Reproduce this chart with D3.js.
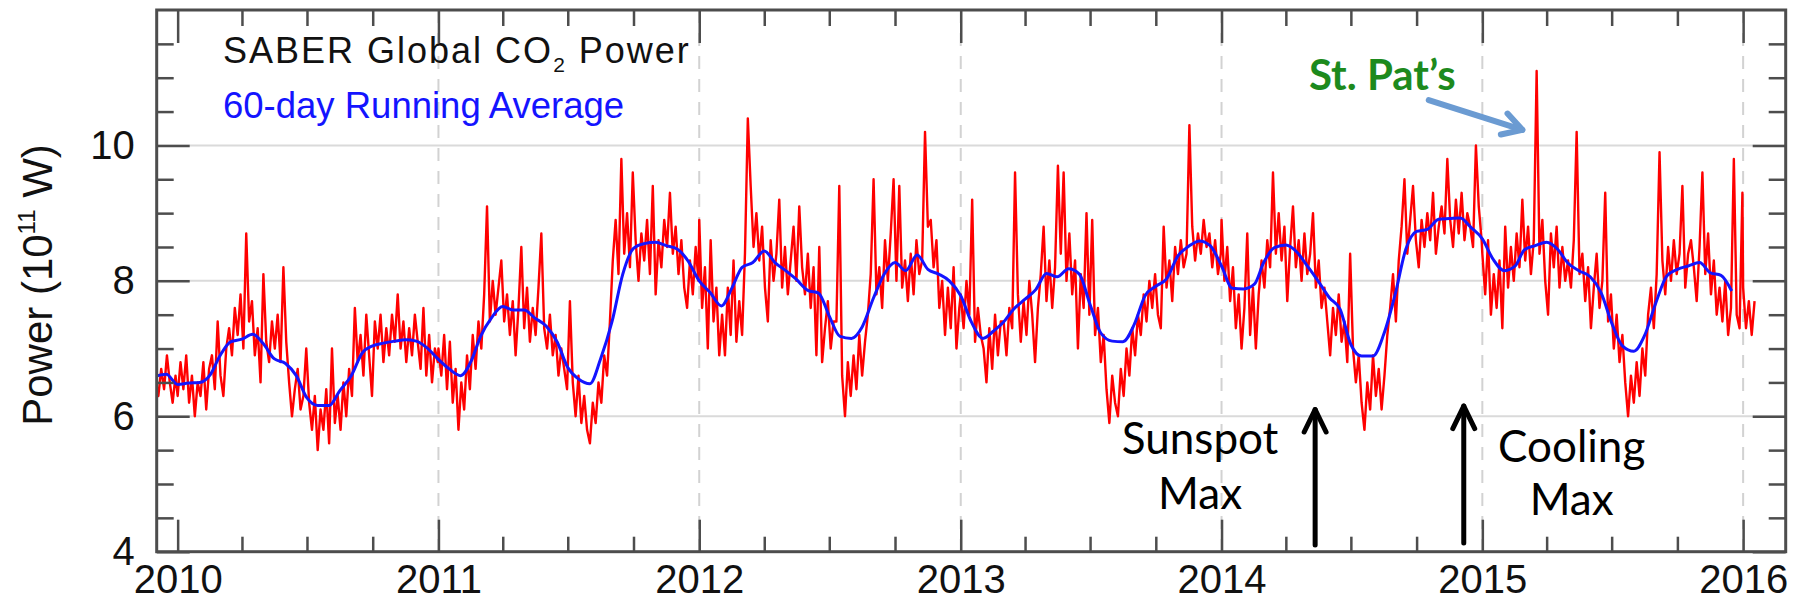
<!DOCTYPE html>
<html>
<head>
<meta charset="utf-8">
<script src="https://cdn.jsdelivr.net/npm/d3@7"></script>
<style>
  body { margin: 0; background: #fff; }
  svg { display: block; }
</style>
</head>
<body>
<script>
// SABER global CO2 power, 10^11 W, one reading every 4 days
// red2009 starts Dec 1 2009, the others on Jan 1 of their year
const red2009 = [6.5, 6.3, 6.7, 6.4, 6.9, 6.5, 6.2, 6.6];
const red2010 = [6.3, 6.8, 6.4, 6.9, 6.2, 6.6, 6.0, 6.5, 6.3, 6.8, 6.1, 6.7, 6.9, 6.4, 7.4,
  6.6, 6.3, 7.0, 7.3, 6.9, 7.6, 7.2, 7.8, 7.0, 8.7, 7.4, 7.7, 6.9, 7.3, 6.5, 8.1, 7.1, 6.8, 7.4,
  7.0, 7.5, 6.8, 8.2, 7.1, 6.5, 6.0, 6.4, 6.7, 6.1, 6.3, 7.0, 6.2, 5.8, 6.3, 5.5, 6.1, 5.8, 6.4,
  5.6, 7.0, 5.9, 6.3, 5.8, 6.5, 6.0, 6.7, 6.3, 7.6, 6.8, 7.2, 6.6, 7.5, 6.9, 6.3, 7.4, 7.0, 7.5,
  6.8, 7.3, 6.9, 7.5, 7.1, 7.8, 7.0, 7.4, 6.8, 7.3, 6.9, 7.5, 7.1, 6.7, 7.6, 6.6, 7.2, 6.5, 7.0, 6.8];
const red2011 = [7.0, 6.6, 7.2, 6.4, 7.1, 6.2, 6.7, 5.8, 6.5, 6.1, 6.9, 6.4, 7.2, 6.7, 7.4,
  7.0, 7.8, 9.1, 7.4, 8.0, 7.5, 7.9, 8.3, 7.4, 7.8, 7.2, 7.7, 6.9, 7.6, 8.5, 7.3, 7.9, 7.1,
  7.6, 7.2, 7.9, 8.7, 7.3, 7.0, 7.5, 6.9, 7.2, 6.6, 7.0, 6.7, 6.4, 7.7, 6.5, 6.0, 6.6, 5.9, 6.3, 5.8,
  5.6, 6.2, 5.9, 6.5, 6.2, 6.9, 6.6, 7.4, 8.3, 8.9, 8.1, 9.8, 8.4, 9.0, 8.2, 9.6, 8.6, 8.0,
  8.7, 8.3, 8.9, 8.1, 9.4, 7.8, 8.6, 8.2, 8.9, 8.5, 9.3, 8.4, 8.8, 8.1, 8.6, 7.9, 7.6, 8.3, 7.8, 8.5, 8.0];
const red2012 = [8.9, 7.6, 8.2, 7.0, 8.6, 7.4, 7.9, 6.9, 7.5, 6.9, 7.9, 7.2, 8.3, 7.1, 7.7,
  7.2, 8.4, 10.4, 9.4, 8.5, 9.0, 8.3, 8.8, 7.9, 7.4, 8.6, 8.0, 8.4, 9.2, 7.9, 8.5, 7.8, 8.3, 8.8, 8.0,
  9.1, 8.2, 7.8, 8.4, 7.6, 8.2, 6.9, 8.5, 6.8, 7.3, 7.7, 7.0, 7.4, 7.4, 9.4, 6.6, 6.0, 6.8, 6.3,
  6.9, 6.4, 7.2, 6.6, 7.1, 7.5, 8.1, 9.5, 7.8, 8.2, 7.6, 8.6, 8.0, 8.7, 9.5, 8.0, 9.4, 7.9, 8.3, 7.7,
  8.4, 7.8, 8.6, 8.1, 8.3, 10.2, 8.8, 8.9, 8.2, 8.6, 7.6, 8.0, 7.2, 7.9, 7.3, 8.2, 7.0, 7.6];
const red2013 = [7.8, 7.3, 8.0, 7.5, 9.2, 7.1, 7.6, 7.2, 7.0, 6.5, 7.3, 6.7, 7.5, 6.9, 7.4,
  7.4, 6.9, 7.6, 7.3, 9.6, 7.8, 7.1, 7.7, 7.2, 8.0, 7.5, 6.8, 7.6, 8.1, 8.8, 7.7, 8.3, 7.6, 8.2, 9.7,
  8.4, 9.6, 8.0, 8.7, 7.8, 8.3, 7.0, 8.1, 7.6, 9.0, 7.5, 8.9, 7.2, 7.6, 6.8, 7.2, 6.4, 5.9, 6.6, 6.2, 6.0,
  6.7, 6.3, 7.0, 6.6, 7.3, 6.9, 7.5, 7.2, 7.8, 7.4, 8.0, 7.6, 8.1, 7.5, 7.3, 8.8, 7.9, 8.3, 7.7, 8.5, 8.1,
  8.6, 8.2, 8.4, 10.3, 8.8, 8.3, 8.7, 8.4, 8.9, 8.5, 8.7, 8.2, 8.6, 8.1, 8.4];
const red2014 = [8.9, 8.0, 8.5, 7.7, 8.2, 7.3, 7.8, 7.0, 7.6, 8.7, 7.2, 7.9, 7.0, 7.8, 8.3,
  7.9, 8.6, 8.2, 9.6, 8.4, 9.0, 8.3, 8.8, 7.7, 8.5, 9.1, 8.2, 8.6, 8.0, 8.7, 8.1, 8.4, 9.0, 7.9, 8.3, 7.6,
  7.9, 7.4, 6.9, 7.6, 7.2, 7.8, 7.1, 7.4, 6.8, 8.4, 7.0, 6.5, 6.9, 6.2, 5.8, 6.5, 6.1, 6.9, 6.3, 6.7, 6.1,
  6.6, 7.2, 7.6, 8.1, 7.4, 8.3, 8.8, 9.5, 8.4, 8.9, 9.4, 8.6, 8.2, 8.9, 8.5, 9.0, 8.6, 9.3, 8.4, 8.8, 9.1,
  8.7, 9.8, 8.9, 8.5, 9.2, 8.7, 9.3, 8.6, 9.0, 8.8, 8.5, 10.0, 9.1, 8.6];
const red2015 = [8.4, 7.8, 8.6, 7.5, 8.1, 7.6, 8.3, 7.3, 8.8, 7.9, 8.5, 8.0, 8.7, 8.2, 9.2,
  8.3, 8.8, 8.1, 8.6, 11.1, 8.4, 8.9, 8.0, 7.5, 8.7, 8.2, 8.8, 7.9, 8.5, 8.0, 8.3, 7.9, 8.6, 10.2, 8.1,
  8.4, 7.7, 8.2, 7.3, 7.9, 8.4, 7.6, 8.0, 9.3, 7.4, 7.8, 7.0, 7.5, 6.8, 7.2, 6.5, 6.0, 6.6, 6.2, 6.8, 6.3,
  7.0, 6.6, 7.5, 7.9, 7.3, 8.1, 9.9, 8.3, 7.8, 8.5, 8.0, 8.6, 8.1, 8.4, 9.4, 7.9, 8.4, 8.6, 8.2, 7.7, 8.5,
  9.6, 8.1, 8.7, 7.8, 8.3, 7.5, 7.9, 7.4, 8.0, 7.2, 7.6, 9.8, 7.5, 7.3, 9.3];
const red2016 = [7.9, 7.3, 7.7, 7.2, 7.7];

// 60-day running average, read on the 1st and 16th of each month
const blue2009 = [6.59, 6.62];
const blue2010 = [6.47, 6.49, 6.50, 6.62, 6.89, 7.10, 7.14, 7.21, 7.07, 6.85, 6.78, 6.60,
  6.27, 6.16, 6.16, 6.38, 6.60, 6.93, 7.04, 7.08, 7.11, 7.13, 7.11, 7.01];
const blue2011 = [6.84, 6.70, 6.60, 6.82, 7.18, 7.45, 7.62, 7.57, 7.57, 7.45, 7.33, 7.10,
  6.72, 6.55, 6.48, 6.85, 7.40, 8.10, 8.48, 8.55, 8.57, 8.52, 8.47, 8.30];
const blue2012 = [8.00, 7.83, 7.63, 7.90, 8.20, 8.27, 8.44, 8.27, 8.15, 8.02, 7.86, 7.82,
  7.48, 7.18, 7.15, 7.32, 7.75, 8.10, 8.27, 8.15, 8.38, 8.17, 8.10, 8.00];
const blue2013 = [7.78, 7.39, 7.15, 7.26, 7.38, 7.58, 7.73, 7.87, 8.11, 8.06, 8.18, 8.10,
  7.65, 7.23, 7.11, 7.10, 7.36, 7.78, 7.92, 8.03, 8.37, 8.51, 8.59, 8.52];
const blue2014 = [8.22, 7.89, 7.88, 7.95, 8.27, 8.49, 8.53, 8.43, 8.22, 8.00, 7.75, 7.58,
  7.06, 6.89, 6.89, 7.21, 7.80, 8.47, 8.73, 8.76, 8.91, 8.92, 8.93, 8.79];
const blue2015 = [8.62, 8.32, 8.15, 8.22, 8.46, 8.52, 8.57, 8.47, 8.26, 8.15, 8.06, 7.83,
  7.38, 7.04, 6.96, 7.19, 7.68, 8.07, 8.17, 8.22, 8.27, 8.12, 8.08, 7.85];

const yearTicks = [2010, 2011, 2012, 2013, 2014, 2015, 2016];
const gridYears = [2011, 2012, 2013, 2014, 2015, 2016];
const powerTicks = [4, 6, 8, 10];
const powerMinorTicks = [4.5, 5, 5.5, 6.5, 7, 7.5, 8.5, 9, 9.5, 10.5, 11, 11.5];
const powerGrid = [6, 8, 10];

// annotations: [date, value]
const sunspotText = ["2013-12-02", 5.44];
const sunspotArrow = [["2014-05-12", 4.1], ["2014-05-12", 6.1]];
const coolingText = ["2015-05-06", 5.33];
const coolingArrow = [["2014-12-06", 4.13], ["2014-12-06", 6.15]];
const patText = ["2014-08-14", 10.82];
const patArrow = [["2014-10-18", 10.67], ["2015-02-26", 10.23]];

// 画布
const width = 1804, height = 603;
const plot = { left: 156.7, right: 1785.7, top: 10, bottom: 551.7 };
const axisColor = "#4d4d4d";
const helv = "'Liberation Sans', Arial, Helvetica, sans-serif";
const calib = "Lato, 'Open Sans', sans-serif";

const svg = d3.select("body").append("svg")
  .attr("width", width).attr("height", height)
  .style("background", "#fff");

const x = d3.scaleTime()
  .domain([new Date(2009, 11, 1), new Date(2016, 2, 1)])
  .range([155.5, 1786]);
const y = d3.scaleLinear().domain([4, 12]).range([plot.bottom, plot.top]);
const day = s => d3.timeParse("%Y-%m-%d")(s);

function everyFourDays(year, month, d0, vals) {
  return vals.map((v, i) => ({ date: d3.timeDay.offset(new Date(year, month, d0), i * 4), value: v }));
}
function twiceMonthly(year, month, vals) {
  return vals.map((v, i) => ({ date: new Date(year, month + Math.floor(i / 2), i % 2 ? 16 : 1), value: v }));
}

const redSeries = [].concat(
  everyFourDays(2009, 11, 1, red2009),
  everyFourDays(2010, 0, 1, red2010),
  everyFourDays(2011, 0, 1, red2011),
  everyFourDays(2012, 0, 1, red2012),
  everyFourDays(2013, 0, 1, red2013),
  everyFourDays(2014, 0, 1, red2014),
  everyFourDays(2015, 0, 1, red2015),
  everyFourDays(2016, 0, 1, red2016)
);
const blueSeries = [].concat(
  twiceMonthly(2009, 11, blue2009),
  twiceMonthly(2010, 0, blue2010),
  twiceMonthly(2011, 0, blue2011),
  twiceMonthly(2012, 0, blue2012),
  twiceMonthly(2013, 0, blue2013),
  twiceMonthly(2014, 0, blue2014),
  twiceMonthly(2015, 0, blue2015)
);

svg.append("clipPath").attr("id", "plot-clip")
  .append("rect")
  .attr("x", plot.left).attr("y", plot.top)
  .attr("width", plot.right - plot.left).attr("height", plot.bottom - plot.top);

// 网格线
const grid = svg.append("g");
grid.selectAll(".hgrid").data(powerGrid).enter().append("line")
  .attr("x1", plot.left).attr("x2", plot.right)
  .attr("y1", d => y(d)).attr("y2", d => y(d))
  .attr("stroke", "#dadada").attr("stroke-width", 2);
grid.selectAll(".vgrid").data(gridYears).enter().append("line")
  .attr("x1", d => x(new Date(d, 0, 1))).attr("x2", d => x(new Date(d, 0, 1)))
  .attr("y1", plot.top).attr("y2", plot.bottom)
  .attr("stroke", "#d2d2d2").attr("stroke-width", 2)
  .attr("stroke-dasharray", "13,10");

// 数据线
const line = d3.line().x(d => x(d.date)).y(d => y(d.value));
const lines = svg.append("g").attr("clip-path", "url(#plot-clip)");
lines.append("path").datum(redSeries)
  .attr("d", line)
  .attr("fill", "none").attr("stroke", "#ff0000")
  .attr("stroke-width", 2.4).attr("stroke-linejoin", "round");
lines.append("path").datum(blueSeries)
  .attr("d", line.curve(d3.curveMonotoneX))
  .attr("fill", "none").attr("stroke", "#1414ff")
  .attr("stroke-width", 3).attr("stroke-linejoin", "round");

// 坐标轴
function styleAxis(g) {
  g.select(".domain").remove();
  g.selectAll(".tick line").attr("stroke", axisColor).attr("stroke-width", 2.5);
  g.selectAll(".tick text").attr("fill", "#111")
    .style("font-family", helv).style("font-size", "40px");
}
const yearDates = yearTicks.map(d => new Date(d, 0, 1));
const quarterDates = d3.timeMonth.every(3).range(x.domain()[0], x.domain()[1])
  .filter(d => d.getMonth() !== 0);

svg.append("g").attr("transform", `translate(0,${plot.bottom})`)
  .call(d3.axisBottom(x).tickValues(yearDates).tickSize(-32).tickPadding(13)
    .tickFormat(d3.timeFormat("%Y"))).call(styleAxis);
svg.append("g").attr("transform", `translate(0,${plot.bottom})`)
  .call(d3.axisBottom(x).tickValues(quarterDates).tickSize(-15).tickFormat("")).call(styleAxis);
svg.append("g").attr("transform", `translate(0,${plot.top})`)
  .call(d3.axisTop(x).tickValues(yearDates).tickSize(-33).tickFormat("")).call(styleAxis);
svg.append("g").attr("transform", `translate(0,${plot.top})`)
  .call(d3.axisTop(x).tickValues(quarterDates).tickSize(-16).tickFormat("")).call(styleAxis);

svg.append("g").attr("transform", `translate(${plot.left},0)`)
  .call(d3.axisLeft(y).tickValues(powerTicks).tickSize(-33).tickPadding(22)
    .tickFormat(d3.format("d"))).call(styleAxis);
svg.append("g").attr("transform", `translate(${plot.left},0)`)
  .call(d3.axisLeft(y).tickValues(powerMinorTicks).tickSize(-17).tickFormat("")).call(styleAxis);
svg.append("g").attr("transform", `translate(${plot.right},0)`)
  .call(d3.axisRight(y).tickValues(powerTicks).tickSize(-33).tickFormat("")).call(styleAxis);
svg.append("g").attr("transform", `translate(${plot.right},0)`)
  .call(d3.axisRight(y).tickValues(powerMinorTicks).tickSize(-17).tickFormat("")).call(styleAxis);

// 外框
svg.append("rect")
  .attr("x", plot.left).attr("y", plot.top)
  .attr("width", plot.right - plot.left).attr("height", plot.bottom - plot.top)
  .attr("fill", "none").attr("stroke", axisColor).attr("stroke-width", 3);

// y轴标题
const ylab = svg.append("text")
  .attr("transform", "translate(52,285) rotate(-90)")
  .attr("text-anchor", "middle")
  .style("font-family", helv).style("font-size", "42px").attr("fill", "#111");
ylab.append("tspan").text("Power (10");
ylab.append("tspan").attr("dy", -17).style("font-size", "24px").text("11");
ylab.append("tspan").attr("dy", 17).text(" W)");

// 图例文字
const t1 = svg.append("text").attr("x", 223).attr("y", 63)
  .style("font-family", helv).style("font-size", "36px")
  .style("letter-spacing", "2px").attr("fill", "#111");
t1.append("tspan").text("SABER Global CO");
t1.append("tspan").attr("dy", 9).style("font-size", "21px").text("2");
t1.append("tspan").attr("dy", -9).text(" Power");
svg.append("text").attr("x", 223).attr("y", 118)
  .style("font-family", helv).style("font-size", "36.5px").attr("fill", "#1414ff")
  .text("60-day Running Average");

// 注释
function arrow(from, to, color, w, arm, spread) {
  const x1 = x(day(from[0])), y1 = y(from[1]);
  const x2 = x(day(to[0])), y2 = y(to[1]);
  const a = Math.atan2(y2 - y1, x2 - x1);
  const s = spread * Math.PI / 180;
  const g = svg.append("g").attr("stroke", color).attr("stroke-width", w)
    .attr("fill", "none").attr("stroke-linecap", "round").attr("stroke-linejoin", "round");
  g.append("line").attr("x1", x1).attr("y1", y1).attr("x2", x2).attr("y2", y2);
  g.append("path").attr("d",
    `M${x2 - arm * Math.cos(a - s)},${y2 - arm * Math.sin(a - s)}L${x2},${y2}` +
    `L${x2 - arm * Math.cos(a + s)},${y2 - arm * Math.sin(a + s)}`);
}
function label(pos, lines, gap) {
  const t = svg.append("text")
    .attr("x", x(day(pos[0]))).attr("y", y(pos[1]))
    .attr("text-anchor", "middle")
    .style("font-family", calib).style("font-size", "44px").attr("fill", "#000");
  lines.forEach((s, i) => t.append("tspan")
    .attr("x", x(day(pos[0]))).attr("dy", i ? gap : 0).text(s));
}
label(sunspotText, ["Sunspot", "Max"], 55);
label(coolingText, ["Cooling", "Max"], 53);
arrow(sunspotArrow[0], sunspotArrow[1], "#000", 5, 25, 26);
arrow(coolingArrow[0], coolingArrow[1], "#000", 5, 25, 26);

svg.append("text")
  .attr("x", x(day(patText[0]))).attr("y", y(patText[1]))
  .attr("text-anchor", "middle")
  .style("font-family", calib).style("font-size", "42px").style("font-weight", "bold")
  .attr("fill", "#1d8a1d")
  .text("St. Pat\u2019s");
arrow(patArrow[0], patArrow[1], "#6b9bd2", 6, 22, 30);
</script>
</body>
</html>
